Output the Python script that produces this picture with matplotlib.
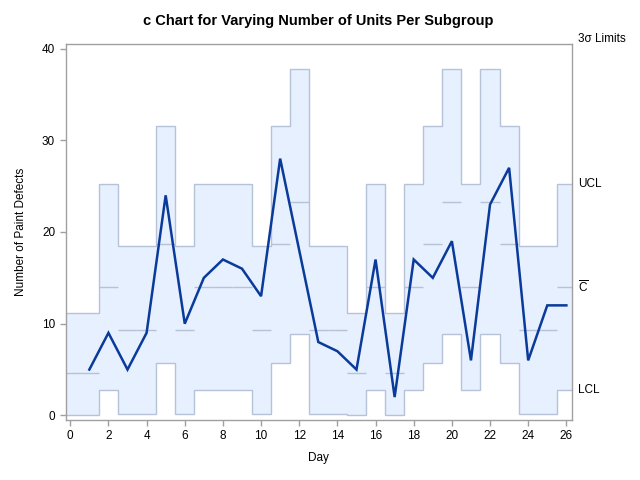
import numpy as np
import matplotlib
matplotlib.use("Agg")
import matplotlib.pyplot as plt

plt.rcParams['font.family'] = ['Liberation Sans', 'DejaVu Sans']

days = list(range(1, 27))
defects = [5, 9, 5, 9, 24, 10, 15, 17, 16, 13, 28, 18, 8, 7, 5, 17, 2, 17, 15, 19, 6, 23, 27, 6, 12, 12]
units = [0.5, 1.5, 1, 1, 2, 1, 1.5, 1.5, 1.5, 1, 2, 2.5, 1, 1, 0.5, 1.5, 0.5, 1.5, 2, 2.5, 1.5, 2.5, 2, 1, 1, 1.5]
yticks = [0, 10, 20, 30, 40]
xticks = list(range(0, 27, 2))

d = np.array(defects, float)
n = np.array(units, float)
u_bar = d.sum() / n.sum()
center = n * u_bar
ucl = center + 3 * np.sqrt(center)
lcl = np.clip(center - 3 * np.sqrt(center), 0, None)

xmin, xmax = -0.25, 26.28
edges = np.concatenate([[xmin], np.array(days[:-1]) + 0.5, [xmax]])

fig = plt.figure(figsize=(6.4, 4.8), dpi=100)
ax = fig.add_axes([65.5/640, 60/480, (571.7-65.5)/640, 376/480])

fill_c = '#E6F0FF'
edge_c = '#B6C2D8'
line_c = '#0A3A9A'

ax.stairs(ucl, edges, baseline=lcl, fill=True, color=fill_c, lw=0, zorder=1)
ax.stairs(ucl, edges, baseline=None, color=edge_c, lw=1.0, zorder=2)
ax.stairs(lcl, edges, baseline=None, color=edge_c, lw=1.0, zorder=2)
ax.hlines(center, edges[:-1], edges[1:], color=edge_c, lw=1.0, zorder=2)
ax.plot(days, defects, color=line_c, lw=1.8, zorder=3, solid_joinstyle='miter')

ax.set_xlim(xmin, xmax)
ax.set_ylim(-0.5, 40.5)
ax.set_xticks(xticks)
ax.set_yticks(yticks)

for s in ax.spines.values():
    s.set_color('#A0A0A0')
    s.set_linewidth(1.0)
ax.tick_params(axis='both', colors='#A0A0A0', labelcolor='black', labelsize=8.5,
               length=4, width=1.0, direction='out')

ax.set_xlabel('Day', fontsize=8.5, labelpad=7)
ax.set_ylabel('Number of Paint Defects', fontsize=8.5, labelpad=11)
ax.set_title('c Chart for Varying Number of Units Per Subgroup', fontsize=10.5, fontweight='bold', pad=14)

tr = ax.get_yaxis_transform()
ax.text(1.013, ucl[-1], 'UCL', transform=tr, fontsize=8.5, va='center', ha='left')
ax.text(1.013, center[-1], r'$\overline{\mathregular{C}}$', transform=tr, fontsize=8.5, va='center', ha='left')
ax.text(1.013, lcl[-1], 'LCL', transform=tr, fontsize=8.5, va='center', ha='left')
ax.text(1.013, 1.012, '3σ Limits', transform=ax.transAxes, fontsize=8.5, va='center', ha='left')

fig.savefig('out.png', dpi=100)
